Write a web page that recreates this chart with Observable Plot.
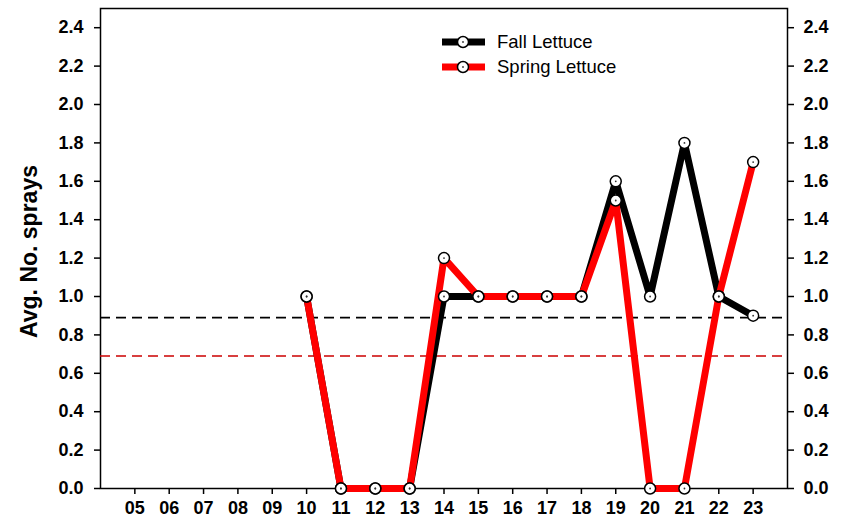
<!DOCTYPE html>
<html>
<head>
<meta charset="utf-8">
<script src="https://cdn.jsdelivr.net/npm/d3@7"></script>
<script src="https://cdn.jsdelivr.net/npm/@observablehq/plot@0.6"></script>
<style>
  html, body { margin: 0; padding: 0; background: #fff; }
  #wrap { position: relative; width: 848px; height: 522px; }
  .legend { position: absolute; left: 442px; top: 29.5px; font-family: "Liberation Sans", Arial, sans-serif; font-size: 18.5px; font-weight: normal; color: #000; }
  .legend .item { display: flex; align-items: center; height: 25px; }
  .legend svg { margin-right: 12px; }
  g[aria-label$="tick label"] text { font-size: 18px; font-weight: bold; }
</style>
</head>
<body>
<div id="wrap"></div>
<script>
// ---- data ----
const years = [5, 6, 7, 8, 9, 10, 11, 12, 13, 14, 15, 16, 17, 18, 19, 20, 21, 22, 23];
const yearLabels = ["05","06","07","08","09","10","11","12","13","14","15","16","17","18","19","20","21","22","23"];
const fallLettuce   = [null, null, null, null, null, 1.0, 0, 0, 0, 1.0, 1.0, 1.0, 1.0, 1.0, 1.6, 1.0, 1.8, 1.0, 0.9];
const springLettuce = [null, null, null, null, null, 1.0, 0, 0, 0, 1.2, 1.0, 1.0, 1.0, 1.0, 1.5, 0, 0, 1.0, 1.7];
const seriesNames = ["Fall Lettuce", "Spring Lettuce"];
const seriesColors = ["#000000", "#ff0000"];
const refLines = [0.89, 0.69];
const refColors = ["#000000", "#cc0000"];
const yTicks = [0, 0.2, 0.4, 0.6, 0.8, 1.0, 1.2, 1.4, 1.6, 1.8, 2.0, 2.2, 2.4];
const yLabel = "Avg. No. sprays";

const fall = years.map((x, i) => ({x, y: fallLettuce[i]})).filter(d => d.y != null);
const spring = years.map((x, i) => ({x, y: springLettuce[i]})).filter(d => d.y != null);
const refs = refLines.map((y, i) => ({y, c: refColors[i]}));

const font = "'Liberation Sans', Arial, sans-serif";

const chart = Plot.plot({
  width: 848,
  height: 522,
  marginLeft: 100,
  marginRight: 61,
  marginTop: 8,
  marginBottom: 34,
  style: {fontFamily: font, fontSize: "18px", fontWeight: "bold", color: "#000", background: "#fff"},
  x: {type: "linear", domain: [4, 24]},
  y: {domain: [0, 2.5]},
  marks: [
    Plot.frame({stroke: "black", strokeWidth: 1.5}),
    Plot.axisY({anchor: "left", ticks: yTicks, tickFormat: d => d.toFixed(1), tickSize: 6, tickPadding: 11, label: null, strokeWidth: 1.5, fontSize: 18, fontWeight: "bold"}),
    Plot.axisY({anchor: "right", ticks: yTicks, tickFormat: d => d.toFixed(1), tickSize: 6, tickPadding: 10, label: null, strokeWidth: 1.5, fontSize: 18, fontWeight: "bold"}),
    Plot.axisX({anchor: "bottom", ticks: years, tickFormat: (d) => yearLabels[years.indexOf(d)], tickSize: 6, tickPadding: 7, label: null, strokeWidth: 1.5, fontSize: 18, fontWeight: "bold"}),
    Plot.text([yLabel], {frameAnchor: "left", textAnchor: "middle", rotate: -90, dx: -71, dy: 3, fontSize: 23, fontWeight: "bold", fill: "black"}),
    Plot.ruleY(refs, {y: "y", stroke: "c", strokeWidth: 1.6, strokeDasharray: "10,6"}),
    Plot.line(fall, {x: "x", y: "y", stroke: seriesColors[0], strokeWidth: 7, strokeLinejoin: "round", strokeLinecap: "butt"}),
    Plot.line(spring, {x: "x", y: "y", stroke: seriesColors[1], strokeWidth: 7, strokeLinejoin: "round", strokeLinecap: "butt"}),
    Plot.dot(fall, {x: "x", y: "y", r: 5.5, fill: "white", stroke: "black", strokeWidth: 1.5}),
    Plot.dot(spring, {x: "x", y: "y", r: 5.5, fill: "white", stroke: "black", strokeWidth: 1.5}),
    Plot.dot(fall, {x: "x", y: "y", r: 0.9, fill: "#333", stroke: "none"}),
    Plot.dot(spring, {x: "x", y: "y", r: 0.9, fill: "#333", stroke: "none"})
  ]
});
const wrap = document.getElementById("wrap");
wrap.appendChild(chart);

// legend
const legend = document.createElement("div");
legend.className = "legend";
seriesNames.forEach((name, i) => {
  const item = document.createElement("div");
  item.className = "item";
  item.innerHTML = `<svg width="43" height="14"><line x1="0" y1="7" x2="43" y2="7" stroke="${seriesColors[i]}" stroke-width="7"/><circle cx="21" cy="7" r="5.5" fill="white" stroke="black" stroke-width="1.5"/><circle cx="21" cy="7" r="0.9" fill="#333"/></svg><span>${name}</span>`;
  legend.appendChild(item);
});
wrap.appendChild(legend);
</script>
</body>
</html>
